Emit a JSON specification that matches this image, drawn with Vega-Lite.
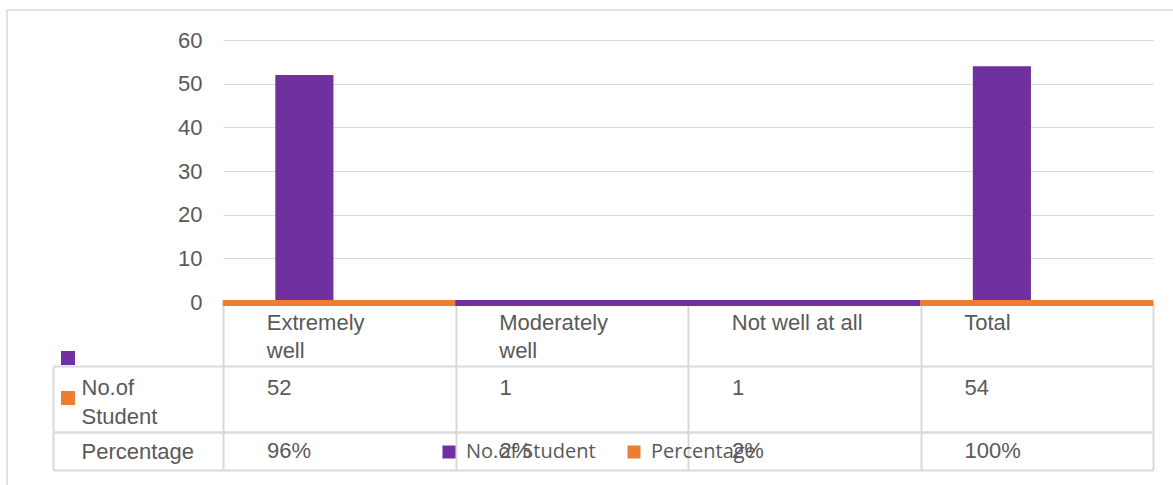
{
  "$schema": "https://vega.github.io/schema/vega-lite/v6.json",
  "background": "white",
  "padding": {"left": 6, "top": 9, "right": 0, "bottom": 0},
  "bounds": "flush",
  "spacing": 64,
  "config": {
    "view": {"stroke": null},
    "font": "Liberation Sans",
    "axis": {"labelFont": "Liberation Sans", "labelFontSize": 22, "labelColor": "#595959", "title": null, "gridColor": "#d9d9d9", "tickColor": "#d9d9d9", "domainColor": "#d9d9d9"},
    "legend": {"padding": 0, "title": null}
  },
  "datasets": {
    "table": [
      {"category": "Extremely well", "series": "No.of Student", "value": 52, "label": "52"},
      {"category": "Moderately well", "series": "No.of Student", "value": 1, "label": "1"},
      {"category": "Not well at all", "series": "No.of Student", "value": 1, "label": "1"},
      {"category": "Total", "series": "No.of Student", "value": 54, "label": "54"},
      {"category": "Extremely well", "series": "Percentage", "value": 0.96, "label": "96%"},
      {"category": "Moderately well", "series": "Percentage", "value": 0.02, "label": "2%"},
      {"category": "Not well at all", "series": "Percentage", "value": 0.02, "label": "2%"},
      {"category": "Total", "series": "Percentage", "value": 1, "label": "100%"}
    ],
    "baseline": [
      {"category": "Extremely well", "series": "Percentage"},
      {"category": "Moderately well", "series": "No.of Student"},
      {"category": "Not well at all", "series": "No.of Student"},
      {"category": "Total", "series": "Percentage"}
    ]
  },
  "vconcat": [
    {
      "width": 930,
      "height": 262,
      "layer": [
        {
          "data": {"name": "table"},
          "transform": [{"filter": "datum.value > 1"}],
          "mark": {"type": "bar", "strokeWidth": 0},
          "encoding": {
            "x": {
              "field": "category", "type": "nominal",
              "scale": {"domain": ["Extremely well", "Moderately well", "Not well at all", "Total"], "paddingInner": 0, "paddingOuter": 0},
              "axis": {"orient": "bottom", "domain": false, "ticks": true, "tickBand": "extent", "tickSize": 64, "tickWidth": 2, "grid": false, "labelAngle": 0, "labelAlign": "left", "labelBaseline": "top", "labelPadding": -54, "labelOffset": -73, "labelLineHeight": 28, "labelExpr": "!isValid(datum.value) ? '' : datum.value == 'Not well at all' ? datum.value : split(datum.value, ' ')"}
            },
            "xOffset": {
              "field": "series", "type": "nominal",
              "scale": {"domain": ["No.of Student", "Percentage"], "paddingInner": 0, "paddingOuter": 1.193, "align": 0.45}
            },
            "y": {
              "field": "value", "type": "quantitative",
              "scale": {"domain": [0, 60]},
              "axis": {"values": [0, 10, 20, 30, 40, 50, 60], "domain": false, "ticks": false, "grid": true, "gridWidth": 1.2, "labelPadding": 21}
            },
            "color": {
              "field": "series", "type": "nominal",
              "scale": {"domain": ["No.of Student", "Percentage"], "range": ["#7030A0", "#ED7D31"]},
              "legend": {"orient": "none", "legendX": 216, "legendY": 402, "direction": "horizontal", "symbolType": "square", "symbolSize": 169, "symbolStrokeWidth": 0, "labelFont": "Open Sans", "labelFontSize": 20, "labelColor": "#595959", "labelOffset": 7, "columnPadding": 28}
            }
          }
        },
        {
          "data": {"name": "baseline"},
          "mark": {"type": "tick", "orient": "horizontal", "thickness": 6, "size": 233, "yOffset": 1, "opacity": 1, "strokeWidth": 0},
          "encoding": {
            "x": {"field": "category", "type": "nominal"},
            "y": {"datum": 0},
            "color": {"field": "series", "type": "nominal"},
            "stroke": {
              "field": "series", "type": "nominal",
              "scale": {"range": ["#7030A0", "#ED7D31"]},
              "legend": {"orient": "none", "legendX": -162, "legendY": 311, "direction": "vertical", "symbolType": "square", "symbolSize": 49, "symbolStrokeWidth": 7, "symbolFillColor": "transparent", "labelOpacity": 0, "labelFontSize": 1, "rowPadding": 4}
            }
          }
        }
      ]
    },
    {
      "spacing": 0,
      "bounds": "flush",
      "vconcat": [
        {
          "width": 930,
          "height": 66,
          "data": {"name": "table"},
          "transform": [{"filter": "datum.series == 'No.of Student'"}],
          "mark": {"type": "text", "align": "left", "baseline": "alphabetic", "dx": 44, "dy": 29, "fontSize": 22, "color": "#595959", "font": "Liberation Sans"},
          "encoding": {
            "x": {
              "field": "category", "type": "nominal", "bandPosition": 0,
              "scale": {"type": "band", "domain": ["Extremely well", "Moderately well", "Not well at all", "Total"], "paddingInner": 0, "paddingOuter": 0},
              "axis": {"orient": "top", "labels": false, "ticks": false, "domain": false, "grid": true, "tickBand": "extent", "gridWidth": 2}
            },
            "y": {
              "field": "series", "type": "nominal", "bandPosition": 0,
              "scale": {"type": "band", "paddingInner": 0, "paddingOuter": 0},
              "axis": {"offset": 170, "domain": true, "domainWidth": 2, "ticks": true, "tickSize": -170, "tickWidth": 2, "tickBand": "extent", "grid": true, "gridWidth": 2, "labelAlign": "left", "labelPadding": 142, "labelBaseline": "middle", "labelLineHeight": 29, "labelOffset": -12, "labelExpr": "isValid(datum.value) ? split(datum.value, ' ') : ''"}
            },
            "text": {"field": "label"}
          }
        },
        {
          "width": 930,
          "height": 38,
          "data": {"name": "table"},
          "transform": [{"filter": "datum.series == 'Percentage'"}],
          "mark": {"type": "text", "align": "left", "baseline": "middle", "dx": 44, "fontSize": 22, "color": "#595959", "font": "Liberation Sans"},
          "encoding": {
            "x": {
              "field": "category", "type": "nominal", "bandPosition": 0,
              "scale": {"type": "band", "domain": ["Extremely well", "Moderately well", "Not well at all", "Total"], "paddingInner": 0, "paddingOuter": 0},
              "axis": {"orient": "top", "labels": false, "ticks": false, "domain": false, "grid": true, "tickBand": "extent", "gridWidth": 2}
            },
            "y": {
              "field": "series", "type": "nominal",
              "scale": {"type": "band", "paddingInner": 0, "paddingOuter": 0},
              "axis": {"offset": 170, "domain": true, "domainWidth": 2, "ticks": true, "tickSize": -170, "tickWidth": 2, "tickBand": "extent", "grid": true, "gridWidth": 2, "labelAlign": "left", "labelPadding": 142, "labelBaseline": "middle", "labelOffset": 0}
            },
            "fill": {
              "field": "value", "type": "quantitative",
              "scale": {"range": ["#595959", "#595959"]},
              "legend": {"orient": "none", "legendX": -216, "legendY": -30, "direction": "horizontal", "gradientLength": 974, "gradientThickness": 281, "padding": 100, "labelOpacity": 0, "strokeColor": "#d9d9d9", "encode": {"gradient": {"update": {"opacity": {"value": 0}}}, "labels": {"update": {"opacity": {"value": 0}}}, "legend": {"update": {"stroke": {"value": "#d9d9d9"}, "strokeWidth": {"value": 1.5}}}}}
            },
            "text": {"field": "label"}
          }
        }
      ]
    }
  ]
}
